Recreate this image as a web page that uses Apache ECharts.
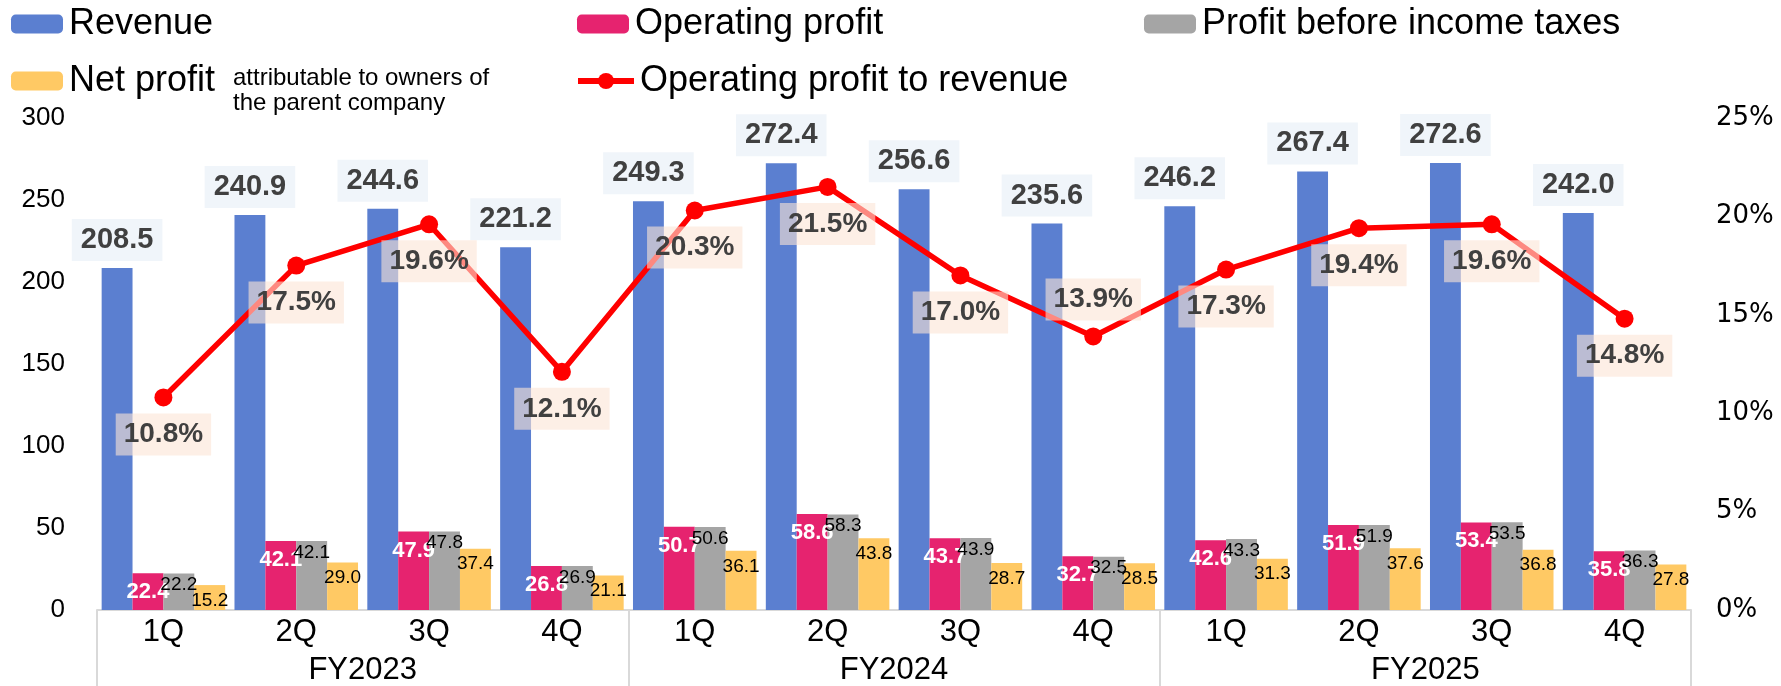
<!DOCTYPE html>
<html>
<head>
<meta charset="utf-8">
<script src="https://cdn.jsdelivr.net/npm/echarts@6/dist/echarts.min.js"></script>
<style>
  html, body { margin: 0; padding: 0; background: #fff; }
  #chart { width: 1781px; height: 686px; }
</style>
</head>
<body>
<div id="chart"></div>
<script>
const years = ['FY2023', 'FY2024', 'FY2025'];
const quarters = ['1Q', '2Q', '3Q', '4Q'];
const revenue = [208.5, 240.9, 244.6, 221.2, 249.3, 272.4, 256.6, 235.6, 246.2, 267.4, 272.6, 242.0];
const operatingProfit = [22.4, 42.1, 47.9, 26.8, 50.7, 58.6, 43.7, 32.7, 42.6, 51.9, 53.4, 35.8];
const profitBeforeTax = [22.2, 42.1, 47.8, 26.9, 50.6, 58.3, 43.9, 32.5, 43.3, 51.9, 53.5, 36.3];
const netProfit = [15.2, 29.0, 37.4, 21.1, 36.1, 43.8, 28.7, 28.5, 31.3, 37.6, 36.8, 27.8];
const opMargin = [10.8, 17.5, 19.6, 12.1, 20.3, 21.5, 17.0, 13.9, 17.3, 19.4, 19.6, 14.8];
const leftTicks = [0, 300, 50];
const rightTicks = [0, 25, 5];

const categories = [];
years.forEach(y => quarters.forEach(q => categories.push(y + ' ' + q)));

const FONT = 'Arial, "Liberation Sans", sans-serif';

const chart = echarts.init(document.getElementById('chart'));

// one legend block per item so each one sits where the original put it
function legendAt(name, left, top, extra) {
  return Object.assign({
    data: [name],
    left: left,
    top: top,
    padding: 0,
    itemWidth: 52,
    itemHeight: 19,
    selectedMode: false,
    textStyle: { fontSize: 36, fontFamily: FONT, color: '#000', padding: [0, 0, 0, 1] }
  }, extra || {});
}

const smallLabel = {
  show: true,
  position: 'insideTop',
  fontSize: 19,
  fontFamily: FONT,
  color: '#000',
  formatter: p => p.value.toFixed(1)
};

const option = {
  animation: false,
  backgroundColor: '#fff',
  textStyle: { fontFamily: FONT },
  legend: [
    legendAt('Revenue', 11, 6),
    legendAt('Operating profit', 577, 6),
    legendAt('Profit before income taxes', 1144, 6),
    legendAt('Net profit', 11, 63),
    legendAt('Operating profit to revenue', 575, 63, {
      itemWidth: 56, itemHeight: 20,
      lineStyle: { width: 6 }
    })
  ],
  graphic: [{
    type: 'text',
    left: 233,
    top: 66,
    style: {
      text: 'attributable to owners of\nthe parent company',
      fontSize: 24,
      lineHeight: 25,
      fontFamily: FONT,
      fill: '#000'
    }
  }],
  grid: { left: 97, right: 90, top: 118, bottom: 76, containLabel: false },
  xAxis: [
    {
      type: 'category',
      data: categories,
      axisLine: { lineStyle: { color: '#d9d9d9', width: 2 } },
      axisTick: { show: false },
      axisLabel: {
        fontSize: 31, color: '#000', margin: 7, fontFamily: FONT,
        formatter: v => v.split(' ')[1]
      }
    },
    {
      type: 'category',
      data: years,
      position: 'bottom',
      axisLine: { show: false },
      axisTick: { show: true, length: 76, lineStyle: { color: '#d9d9d9', width: 2 } },
      axisLabel: { fontSize: 31, color: '#000', margin: 45, fontFamily: FONT }
    }
  ],
  yAxis: [
    {
      type: 'value',
      min: leftTicks[0], max: leftTicks[1], interval: leftTicks[2],
      axisLine: { show: false },
      axisTick: { show: false },
      splitLine: { show: false },
      axisLabel: { fontSize: 26, color: '#000', margin: 32, fontFamily: FONT }
    },
    {
      type: 'value',
      min: rightTicks[0], max: rightTicks[1], interval: rightTicks[2],
      axisLine: { show: false },
      axisTick: { show: false },
      splitLine: { show: false },
      axisLabel: {
        fontSize: 26, color: '#000', margin: 25,
        fontFamily: '"DejaVu Sans", sans-serif',
        formatter: '{value}%'
      }
    }
  ],
  series: [
    {
      name: 'Revenue',
      type: 'bar',
      data: revenue,
      barGap: '0%',
      barCategoryGap: '7%',
      itemStyle: { color: '#5b7fd0' },
      label: {
        show: true,
        position: 'top',
        distance: 7,
        fontSize: 29,
        fontWeight: 'bold',
        color: '#404040',
        backgroundColor: '#f0f5fa',
        padding: [6, 9],
        lineHeight: 30,
        formatter: p => p.value.toFixed(1)
      }
    },
    {
      name: 'Operating profit',
      type: 'bar',
      data: operatingProfit,
      itemStyle: { color: '#e6236f' },
      label: Object.assign({}, smallLabel, {
        distance: 8, fontSize: 22, fontWeight: 'bold', color: '#fff'
      })
    },
    {
      name: 'Profit before income taxes',
      type: 'bar',
      data: profitBeforeTax,
      itemStyle: { color: '#a5a5a5' },
      label: Object.assign({}, smallLabel, { distance: 2 })
    },
    {
      name: 'Net profit',
      type: 'bar',
      data: netProfit,
      itemStyle: { color: '#ffc964' },
      label: Object.assign({}, smallLabel, { distance: 6 })
    },
    {
      name: 'Operating profit to revenue',
      type: 'line',
      yAxisIndex: 1,
      // the 4Q FY2024 label was placed above its point in the original
      data: opMargin.map((v, i) => i === 7 ? { value: v, label: { position: 'top' } } : v),
      symbol: 'circle',
      symbolSize: 18,
      itemStyle: { color: '#ff0000' },
      lineStyle: { color: '#ff0000', width: 5.5 },
      z: 5,
      label: {
        show: true,
        position: 'bottom',
        distance: 7,
        fontSize: 28,
        fontWeight: 'bold',
        color: '#404040',
        backgroundColor: 'rgba(251, 228, 214, 0.6)',
        padding: [6, 8],
        lineHeight: 30,
        formatter: p => p.value.toFixed(1) + '%'
      }
    }
  ]
};

chart.setOption(option);
</script>
</body>
</html>
